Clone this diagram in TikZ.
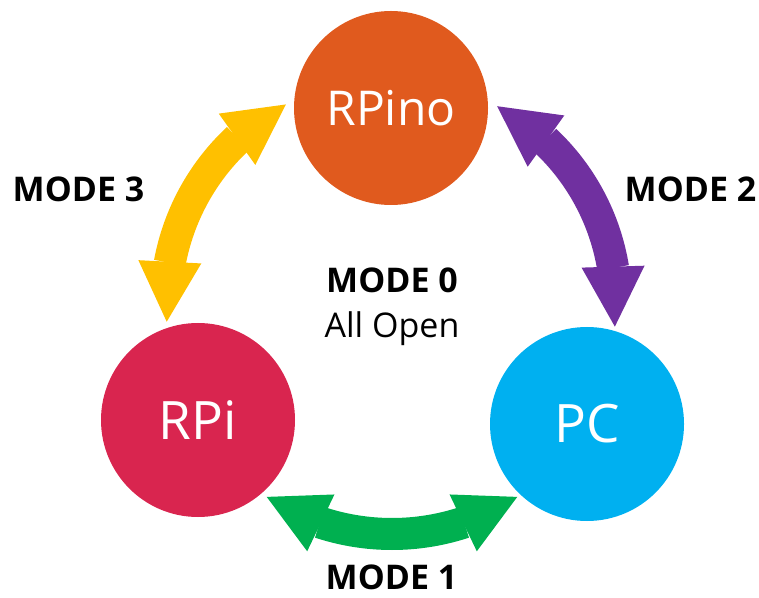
\documentclass[tikz,border=0pt]{standalone}
\usepackage{fontspec}
\setmainfont{Open Sans}
\usetikzlibrary{arrows.meta,bending}
\definecolor{rpinoorange}{HTML}{E05A1E}
\definecolor{rpicrimson}{HTML}{D9254F}
\definecolor{pcblue}{HTML}{00B0F0}
\definecolor{modegreen}{HTML}{00B050}
\definecolor{modeyellow}{HTML}{FFC000}
\definecolor{modepurple}{HTML}{7030A0}
\tikzset{
  device/.style={circle,minimum size=194pt,inner sep=0pt,text=white},
  modearrow/.style={line width=32pt,<->},
  modelabel/.style={font=\fontsize{34}{45}\selectfont\bfseries}
}

\begin{document}
\begin{tikzpicture}[x=1pt,y=1pt,
    >={Triangle[width=63pt,length=60pt,line width=0pt,flex]}]
  \useasboundingbox (0,0) rectangle (759,597);
  % Devices
  \node[device,fill=rpinoorange,font=\fontsize{48}{52}\selectfont] (rpino) at (391,489) {RPino};
  \node[device,fill=rpicrimson,font=\fontsize{53}{58}\selectfont] (rpi) at (198,177) {RPi};
  \node[device,fill=pcblue,font=\fontsize{53}{58}\selectfont] (pc) at (587,173) {PC};
  % Centre of the mode arrows
  \coordinate (hub) at (392,293);
  % Mode arrows
  \draw[modearrow,modegreen] ([shift={(237:230)}]hub) arc[start angle=237,end angle=303,radius=230];
  \draw[modearrow,modeyellow] ([shift={(184.5:226)}]hub) arc[start angle=184.5,end angle=118,radius=226];
  \draw[modearrow,modepurple] ([shift={(62:224)}]hub) arc[start angle=62,end angle=-5.8,radius=224];
  % Labels
  \node[modelabel,anchor=base,align=center] (mode0) at (392,259) {MODE 0\\\mdseries All Open};
  \node[modelabel] (mode1) at (391.5,19.5) {MODE 1};
  \node[modelabel] (mode2) at (690.5,408) {MODE 2};
  \node[modelabel] (mode3) at (78.5,408) {MODE 3};
\end{tikzpicture}
\end{document}
